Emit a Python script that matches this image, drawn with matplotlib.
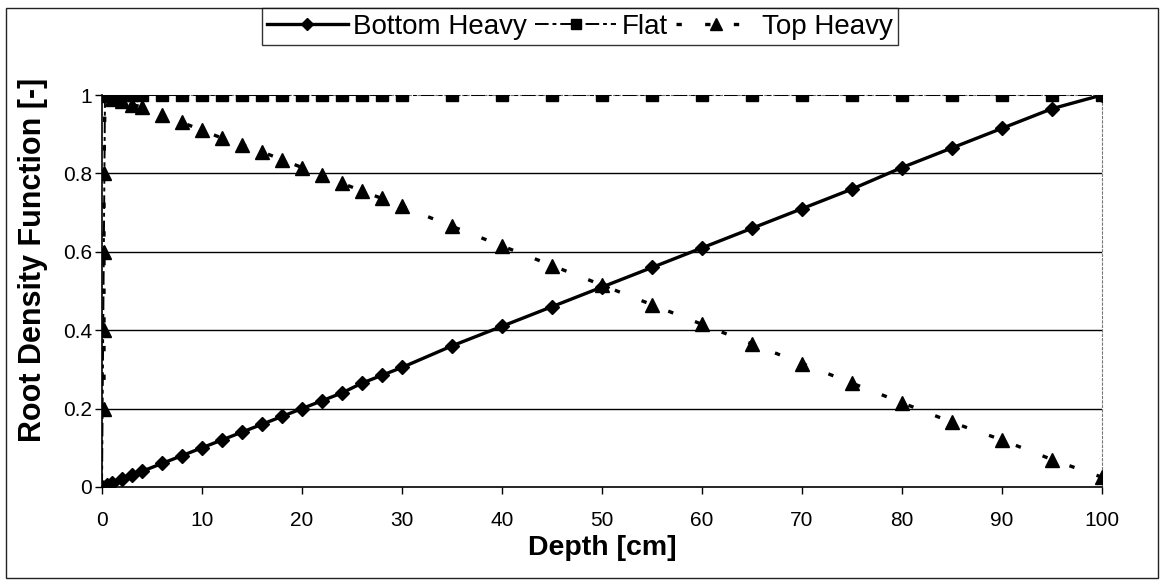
import matplotlib
matplotlib.use("Agg")
import matplotlib.pyplot as plt
from matplotlib.patches import Rectangle

# Depth [cm] and root density function for the three profiles
bottom_depth = [0, 0.5, 1, 2, 3, 4, 6, 8, 10, 12, 14, 16, 18, 20, 22, 24, 26, 28, 30,
                35, 40, 45, 50, 55, 60, 65, 70, 75, 80, 85, 90, 95, 100]
bottom_heavy = [0, 0.005, 0.01, 0.02, 0.03, 0.04, 0.06, 0.08, 0.10, 0.12, 0.14, 0.16, 0.18,
                0.20, 0.22, 0.24, 0.265, 0.285, 0.305, 0.36, 0.41, 0.46, 0.51, 0.56, 0.61,
                0.66, 0.71, 0.76, 0.815, 0.865, 0.915, 0.965, 1.0]

flat_depth = [0, 0.3, 0.8, 1.3, 1.8, 2.3, 3, 4, 6, 8, 10, 12, 14, 16, 18, 20, 22, 24, 26, 28, 30,
              35, 40, 45, 50, 55, 60, 65, 70, 75, 80, 85, 90, 95, 100]
flat = [0] + [1.0] * 34

top_depth = [0.2, 0.2, 0.2, 0.2, 0.3, 1, 2, 3, 4, 6, 8, 10, 12, 14, 16, 18, 20, 22, 24, 26, 28, 30,
             35, 40, 45, 50, 55, 60, 65, 70, 75, 80, 85, 90, 95, 100]
top_heavy = [0.2, 0.4, 0.6, 0.8, 1.0, 0.99, 0.985, 0.975, 0.97, 0.95, 0.93, 0.91, 0.89, 0.873,
             0.855, 0.835, 0.815, 0.795, 0.775, 0.755, 0.736, 0.716, 0.665, 0.615, 0.565,
             0.515, 0.465, 0.415, 0.365, 0.315, 0.265, 0.215, 0.165, 0.12, 0.07, 0.025]

x_ticks = [0, 10, 20, 30, 40, 50, 60, 70, 80, 90, 100]
y_ticks = [0, 0.2, 0.4, 0.6, 0.8, 1.0]
y_ticklabels = ["0", "0.2", "0.4", "0.6", "0.8", "1"]

plt.rcParams["font.family"] = ["Liberation Sans", "DejaVu Sans"]

W, H = 1160, 581
fig = plt.figure(figsize=(W / 100, H / 100), dpi=100)
fig.patch.set_facecolor("white")

# outer chart border
fig.add_artist(Rectangle((6 / W, 3 / H), 1152 / W, 570 / H, transform=fig.transFigure,
                         fill=False, edgecolor="#222222", linewidth=1.0))

ax = fig.add_axes([102 / W, 1 - 487 / H, 1000 / W, 392 / H])
ax.set_xlim(0, 100)
ax.set_ylim(0, 1)

for y in y_ticks[1:-1]:
    ax.axhline(y, color="black", linewidth=1.0, zorder=1)

ax.plot(bottom_depth, bottom_heavy, color="black", linewidth=2.4, marker="D",
        markersize=6.8, label="Bottom Heavy", zorder=4)
ax.plot(flat_depth, flat, color="black", linewidth=1.4, linestyle=(0, (7, 2, 2, 2)),
        marker="s", markersize=8.5, label="Flat", zorder=3)
ax.plot(top_depth, top_heavy, color="black", linewidth=2.4, linestyle=(0, (1.6, 7)),
        marker="^", markersize=9.5, label="Top Heavy", zorder=3)

ax.set_xticks(x_ticks)
ax.set_xticklabels([str(t) for t in x_ticks])
ax.set_yticks(y_ticks)
ax.set_yticklabels(y_ticklabels)
ax.tick_params(axis="both", direction="out", length=5, width=1, color="black",
               labelsize=15)
ax.tick_params(axis="x", pad=12)
ax.tick_params(axis="y", pad=2)

for side in ("left", "bottom"):
    ax.spines[side].set_color("black")
    ax.spines[side].set_linewidth(1.2)
for side in ("top", "right"):
    ax.spines[side].set_color("#777777")
    ax.spines[side].set_linewidth(0.8)
    ax.spines[side].set_linestyle((0, (2, 2)))

ax.set_xlabel("Depth [cm]", fontsize=20.5, fontweight="bold")
ax.xaxis.set_label_coords(0.5, -(535 - 487) / 392)
ax.set_ylabel("Root Density Function [-]", fontsize=22, fontweight="bold")
ax.yaxis.set_label_coords(-(102 - 48) / 1000, 0.58)

leg = fig.legend(loc="upper center", bbox_to_anchor=(580 / W, 1 - 8 / H), ncol=3,
                 frameon=True, fancybox=False, edgecolor="black", fontsize=20,
                 handlelength=2.9, handletextpad=0.2, columnspacing=0.3,
                 borderpad=0.2, borderaxespad=0, markerscale=0.9)
leg.get_frame().set_linewidth(1.0)

fig.savefig("out.png", dpi=100, facecolor="white")
